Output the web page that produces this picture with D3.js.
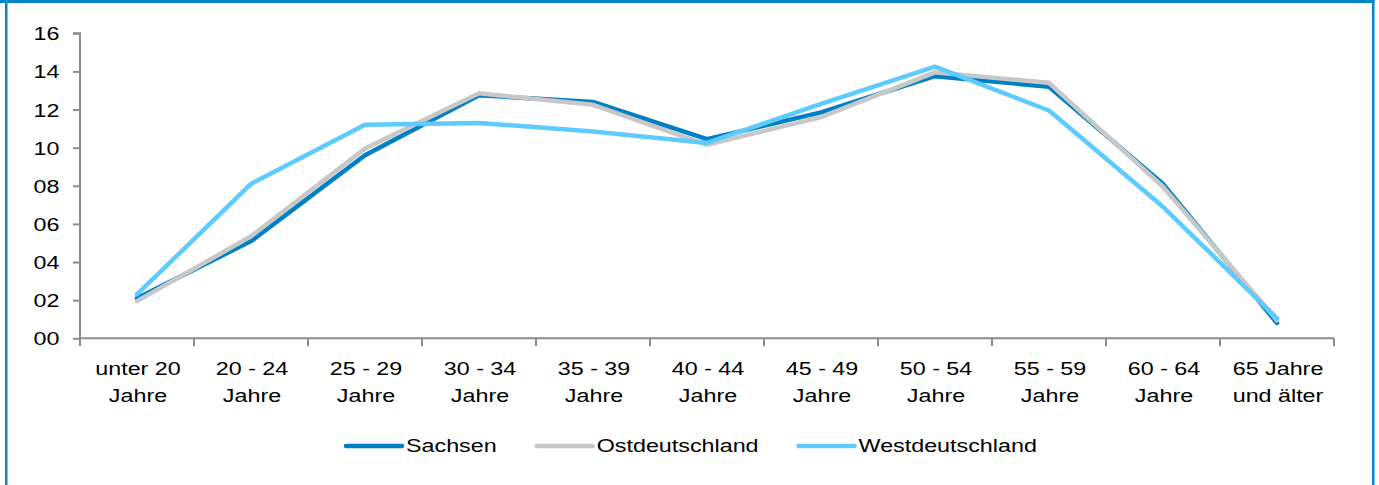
<!DOCTYPE html>
<html lang="de">
<head>
<meta charset="utf-8">
<script src="https://cdn.jsdelivr.net/npm/d3@7"></script>
<style>
  html, body { margin: 0; padding: 0; background: #fff; }
  svg { display: block; font-family: "Liberation Sans", Arial, sans-serif; }
</style>
</head>
<body>
<svg id="chart" width="1379" height="485"></svg>
<script>
// Altersgruppen
const categories = [
  ["unter 20", "Jahre"], ["20 - 24", "Jahre"], ["25 - 29", "Jahre"],
  ["30 - 34", "Jahre"], ["35 - 39", "Jahre"], ["40 - 44", "Jahre"],
  ["45 - 49", "Jahre"], ["50 - 54", "Jahre"], ["55 - 59", "Jahre"],
  ["60 - 64", "Jahre"], ["65 Jahre", "und älter"]
];
const seriesNames = ["Sachsen", "Ostdeutschland", "Westdeutschland"];
const sachsen = [2.1, 5.1, 9.6, 12.75, 12.4, 10.45, 11.85, 13.75, 13.2, 8.1, 0.8];
const ost     = [1.95, 5.35, 9.95, 12.85, 12.25, 10.15, 11.6, 13.95, 13.4, 7.95, 0.95];
const west    = [2.3, 8.1, 11.2, 11.3, 10.85, 10.25, 12.3, 14.25, 11.95, 6.9, 1.05];
const yTicks  = [0, 2, 4, 6, 8, 10, 12, 14, 16];
const yTickLabels = ["00", "02", "04", "06", "08", "10", "12", "14", "16"];

const seriesValues = [sachsen, ost, west];
const colors = ["#0080C4", "#C8C8C8", "#5DCBFF"];
const fontSize = 18.5;
const stretch = 1.26;   // text is set wide

const svg = d3.select("#chart");
const margin = { left: 80, top: 33.3 };
const H = 485;

// outer frame
svg.append("rect").attr("x", 0).attr("y", 0).attr("width", 1374.5).attr("height", 3).attr("fill", "#0085C8");
svg.append("rect").attr("x", 5).attr("y", 0).attr("width", 2.5).attr("height", H).attr("fill", "#0085C8");
svg.append("rect").attr("x", 1372).attr("y", 0).attr("width", 2.5).attr("height", H).attr("fill", "#0085C8");

const x = d3.scaleBand()
  .domain(d3.range(categories.length))
  .range([margin.left, 1334])
  .paddingInner(0).paddingOuter(0);
const y = d3.scaleLinear().domain([0, 16]).range([338.3, margin.top]);

const axisColor = "#8C8C8C";

// y axis
const yAxis = svg.append("g")
  .attr("transform", `translate(${margin.left},0)`)
  .call(d3.axisLeft(y).tickValues(yTicks).tickSize(7).tickPadding(0)
    .tickFormat((d, i) => yTickLabels[i]));
yAxis.select(".domain").attr("stroke", axisColor).attr("stroke-width", 2)
  .attr("d", `M-7,${y(16)}H0V${y(0)}`);
yAxis.selectAll(".tick line").attr("stroke", axisColor).attr("stroke-width", 2);
yAxis.selectAll(".tick text")
  .attr("x", null).attr("dy", null)
  .attr("y", 6.5)
  .attr("transform", `translate(-20.5,0) scale(${stretch},1)`)
  .attr("text-anchor", "end")
  .attr("font-size", fontSize)
  .attr("fill", "#000");

// x axis with boundary ticks between categories
const xAxisG = svg.append("g").attr("transform", `translate(0,${y(0)})`);
xAxisG.append("line")
  .attr("x1", margin.left).attr("x2", 1334).attr("y1", 0).attr("y2", 0)
  .attr("stroke", axisColor).attr("stroke-width", 2);
const boundaries = d3.range(categories.length + 1).map(i => i < categories.length ? x(i) : x(i - 1) + x.bandwidth());
xAxisG.selectAll("line.tick")
  .data(boundaries)
  .join("line")
  .attr("class", "tick")
  .attr("x1", d => d).attr("x2", d => d)
  .attr("y1", 0).attr("y2", 8)
  .attr("stroke", axisColor).attr("stroke-width", 2);

const xLabels = xAxisG.selectAll("g.lbl")
  .data(categories)
  .join("g")
  .attr("class", "lbl")
  .attr("transform", (d, i) => `translate(${x(i) + x.bandwidth() / 2 + 1},0) scale(${stretch},1)`);
xLabels.append("text")
  .attr("text-anchor", "middle")
  .attr("font-size", fontSize)
  .attr("fill", "#000")
  .selectAll("tspan")
  .data(d => d)
  .join("tspan")
  .attr("x", 0)
  .attr("y", (d, i) => 37 + i * 27)
  .text(d => d);

// series lines
const line = d3.line()
  .x((d, i) => x(i) + x.bandwidth() / 2)
  .y(d => y(d));

svg.append("g").selectAll("path")
  .data(seriesValues)
  .join("path")
  .attr("d", d => line(d))
  .attr("fill", "none")
  .attr("stroke", (d, i) => colors[i])
  .attr("stroke-width", 4.5)
  .attr("stroke-linejoin", "round")
  .attr("stroke-linecap", "round");

// legend
const legend = svg.append("g");
let lx = 346;
seriesNames.forEach((name, i) => {
  legend.append("line")
    .attr("x1", lx).attr("x2", lx + 56)
    .attr("y1", 446).attr("y2", 446)
    .attr("stroke", colors[i]).attr("stroke-width", 4.5)
    .attr("stroke-linecap", "round");
  const t = legend.append("text")
    .attr("transform", `translate(${lx + 60},451.5) scale(${stretch},1)`)
    .attr("font-size", fontSize)
    .attr("fill", "#000")
    .text(name);
  const w = t.node().getBBox().width * stretch;
  lx += 60 + w + 40;
});
</script>
</body>
</html>
